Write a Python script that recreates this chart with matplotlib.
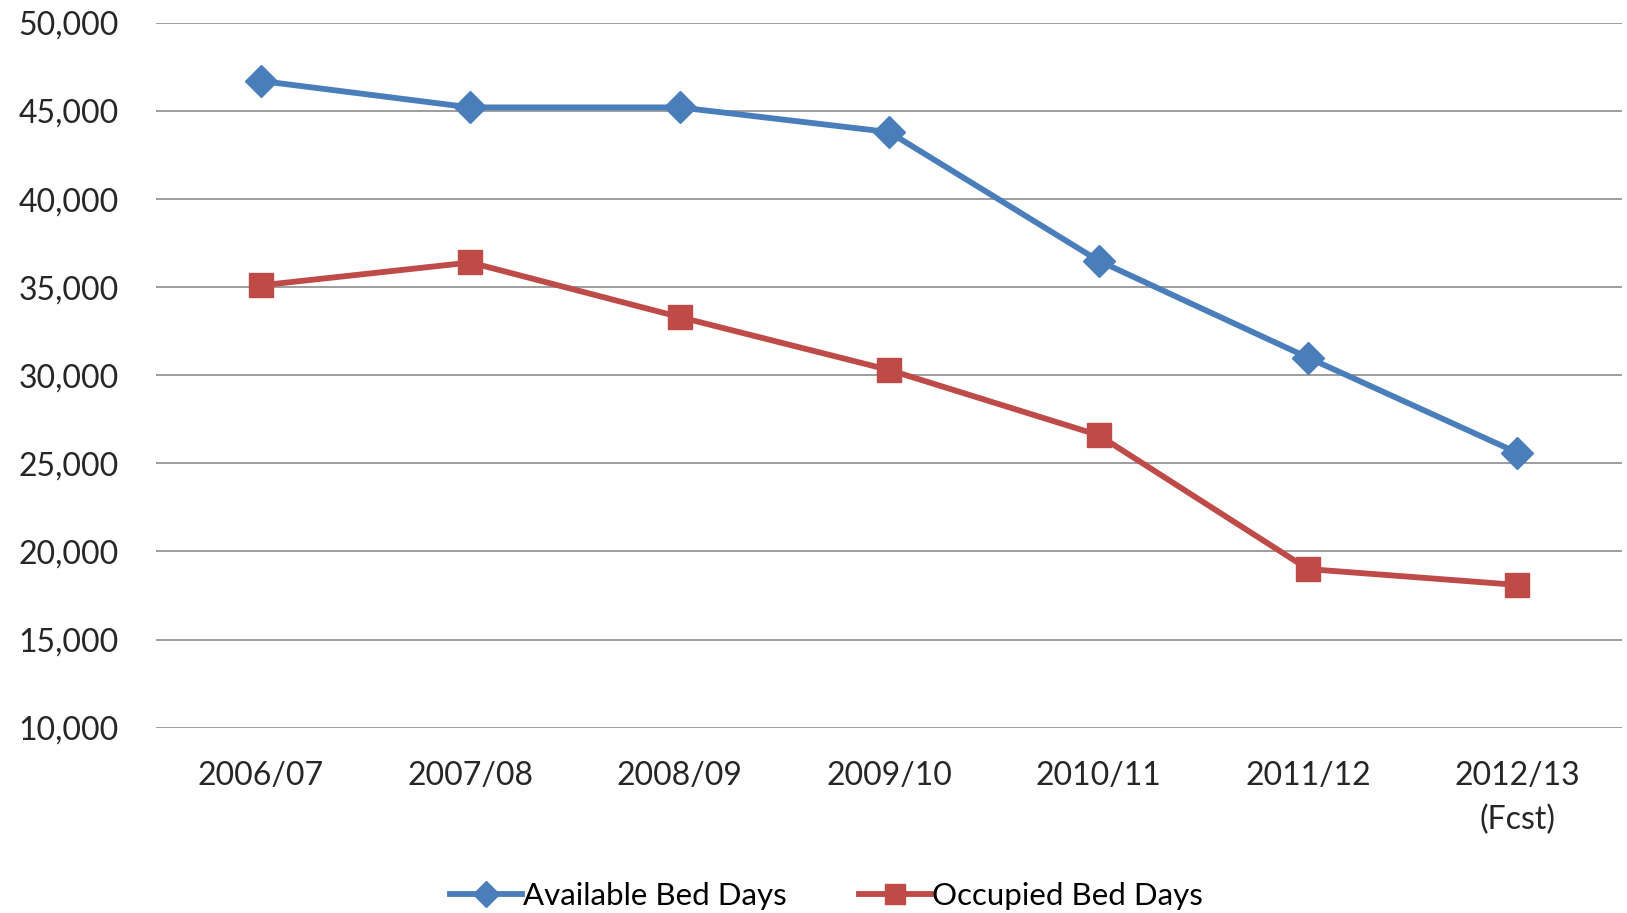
import numpy as np
import matplotlib
matplotlib.use("Agg")
from matplotlib import pyplot as plt
from matplotlib.ticker import FuncFormatter

years = ["2006/07", "2007/08", "2008/09", "2009/10", "2010/11", "2011/12", "2012/13\n(Fcst)"]
available = [46700, 45200, 45200, 43800, 36500, 31000, 25600]
occupied = [35100, 36400, 33300, 30300, 26600, 19000, 18100]

plt.rcParams['font.family'] = ['Lato', 'DejaVu Sans']

fig = plt.figure(figsize=(16.27, 9.13), dpi=100)
ax = fig.add_axes([0.096, 0.203, 0.901, 0.772])

x = np.arange(len(years))
ax.plot(x, available, color='#4A7EBB', lw=4.2, marker='D', ms=16, label='Available Bed Days')
ax.plot(x, occupied, color='#BE4B48', lw=4.2, marker='s', ms=17, label='Occupied Bed Days')

ax.set_xlim(-0.5, len(years) - 0.5)
ax.set_ylim(10000, 50000)
ax.set_yticks(np.arange(10000, 50001, 5000))
ax.yaxis.set_major_formatter(FuncFormatter(lambda v, p: f"{int(v):,}"))
ax.set_xticks(x)
ax.set_xticklabels(years, linespacing=1.55)

ax.grid(axis='y', color='#8c8c8c', lw=1.2)
ax.set_axisbelow(True)
for s in ax.spines.values():
    s.set_visible(False)
ax.tick_params(axis='both', length=0, labelsize=23, colors='#262626')
ax.tick_params(axis='y', pad=27)
ax.tick_params(axis='x', pad=24)

fig.legend(loc='lower center', bbox_to_anchor=(0.508, -0.027), ncol=2, frameon=False,
           fontsize=22.5, handlelength=2.3, handletextpad=0.05, columnspacing=2.3,
           markerscale=0.85)

fig.savefig('out.png', dpi=100)
